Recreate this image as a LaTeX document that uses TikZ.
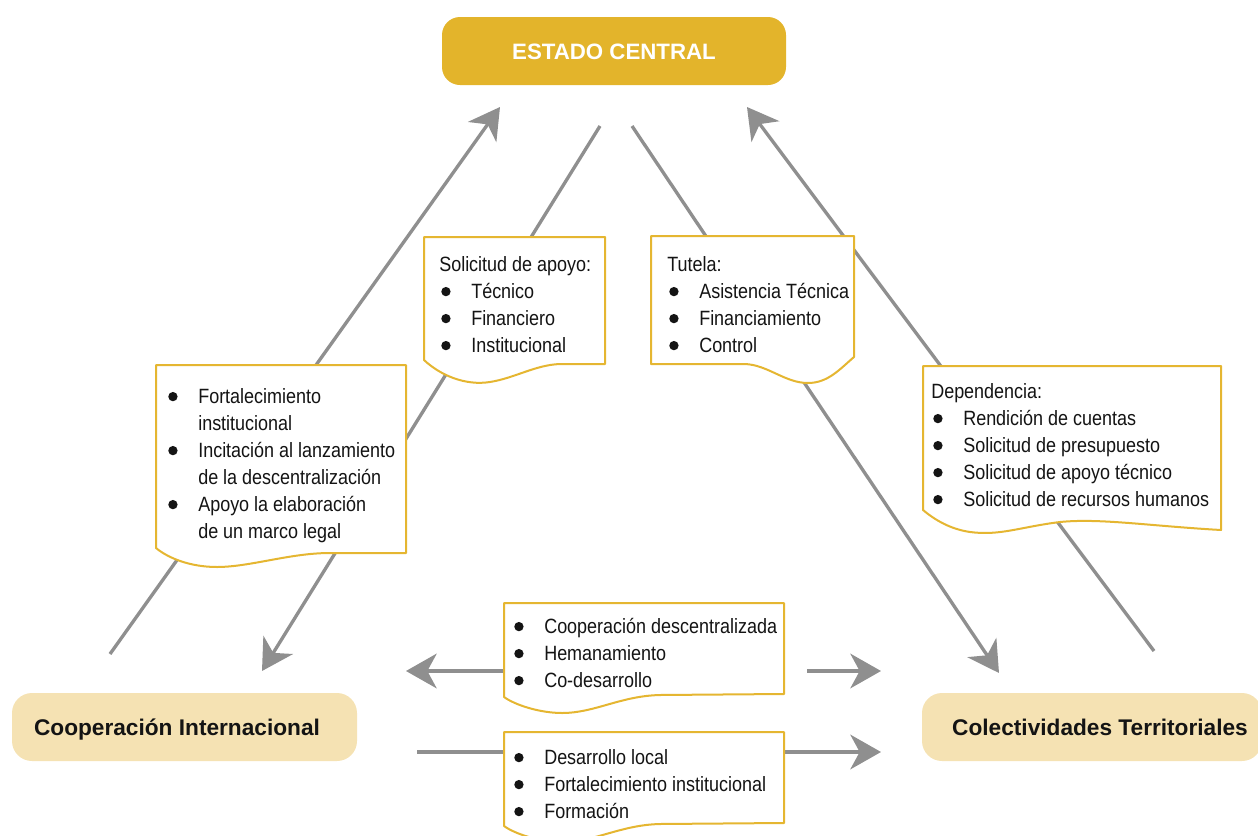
\documentclass[tikz,border=0pt]{standalone}
\usepackage{fontspec}
\setmainfont{Liberation Sans}
\newfontfamily\bodyfont[FakeStretch=0.87]{Liberation Sans}
\usetikzlibrary{arrows.meta}
\definecolor{gold}{HTML}{E3B42B}
\definecolor{sand}{HTML}{F5E2B3}
\definecolor{docline}{HTML}{E5B631}
\definecolor{arrowgray}{HTML}{8F8F8F}
\definecolor{ink}{HTML}{141414}
\newcommand\bul{\makebox[24pt][l]{\hspace{1.5pt}\tikz[baseline=0pt,x=1pt,y=1pt]\fill[ink] (3.5,4.8) circle (3.5);}}
\newcommand\ind{\hspace*{24pt}}
\begin{document}
\begin{tikzpicture}[x=0.75pt,y=-0.75pt,
  flow/.style={draw=arrowgray, line width=2.5pt, -{Stealth[length=23pt,width=26pt,inset=7pt]}},
  doc/.style={draw=docline, line width=1.5pt, fill=white, line join=round},
  doctext/.style={anchor=base west, inner sep=0pt, text=ink, font=\bodyfont\fontsize{15.5pt}{20.25pt}\selectfont},
  bignode/.style={rectangle, rounded corners=15pt, inner sep=0pt, minimum height=51pt, text height=12.2pt, text depth=0pt, font=\bfseries\fontsize{17pt}{20pt}\selectfont, text=ink, fill=sand}
]
\useasboundingbox (0,0) rectangle (1258,836);

% main nodes
\node[rectangle, rounded corners=13.5pt, fill=gold, text=white, inner sep=0pt,
      minimum width=258pt, minimum height=51pt, text height=12pt, text depth=0pt,
      font=\bfseries\fontsize{16.7pt}{20pt}\selectfont] (ec) at (614,51) {ESTADO CENTRAL};
\node[bignode, minimum width=258.75pt] (ci) at (184.5,727) {Cooperación Internacional\kern11.25pt};
\node[bignode, minimum width=255pt] (ct) at (1092,727) {\kern12pt Colectividades Territoriales};

% connector end points
\coordinate (l1s) at (110,654);  \coordinate (l1e) at (500,107);
\coordinate (l2s) at (600,126);  \coordinate (l2e) at (262,671);
\coordinate (l3s) at (632,126);  \coordinate (l3e) at (999,673);
\coordinate (l4s) at (1154,651); \coordinate (l4e) at (747,107);
\coordinate (h1s) at (504,671);  \coordinate (h1e) at (406,671);
\coordinate (h2s) at (807,671);  \coordinate (h2e) at (881,671);
\coordinate (h3s) at (417,752);  \coordinate (h3e) at (881,752);

\draw[flow] (l1s) -- (l1e);
\draw[flow] (l2s) -- (l2e);
\draw[flow] (l3s) -- (l3e);
\draw[flow] (l4s) -- (l4e);
\draw[flow] (h1s) -- (h1e);
\draw[flow] (h2s) -- (h2e);
\draw[flow] (h3s) -- (h3e);

% document shapes
% A: Solicitud de apoyo
\draw[doc] (424,237) -- (605,237) -- (605,364) -- (560,364)
  .. controls (535,365) and (515,378) .. (490,382)
  .. controls (465,386) and (440,375) .. (424,360) -- cycle;
% B: Tutela (mirrored)
\draw[doc] (651,236) -- (854,236) -- (854,357)
  .. controls (840,369) and (828,383) .. (808,383)
  .. controls (785,383) and (768,365) .. (745,364) -- (651,364) -- cycle;
% C: Fortalecimiento
\draw[doc] (156,365) -- (406,365) -- (406,553) -- (330,553)
  .. controls (290,553) and (250,567) .. (217,567)
  .. controls (190,567) and (168,558) .. (156,548) -- cycle;
% D: Dependencia
\draw[doc] (923,366) -- (1221,366) -- (1221,530)
  .. controls (1150,526) and (1100,518) .. (1060,522)
  .. controls (1020,527) and (1000,536) .. (970,532)
  .. controls (950,529) and (935,520) .. (923,510) -- cycle;
% E: Cooperacion descentralizada
\draw[doc] (504,603) -- (784,603) -- (784,694) -- (660,695)
  .. controls (620,696) and (595,713) .. (562,713)
  .. controls (540,713) and (515,705) .. (504,697) -- cycle;
% F: Desarrollo local
\draw[doc] (504,732) -- (784,732) -- (784,823) -- (660,824)
  .. controls (620,825) and (595,842) .. (562,842)
  .. controls (540,842) and (515,834) .. (504,826) -- cycle;

% texts
\node[doctext] (ta) at (439,271) {\begin{tabular}[t]{@{}l@{}}Solicitud de apoyo:\\ \bul Técnico\\ \bul Financiero\\ \bul Institucional\end{tabular}};
\node[doctext] (tb) at (667,271) {\begin{tabular}[t]{@{}l@{}}Tutela:\\ \bul Asistencia Técnica\\ \bul Financiamiento\\ \bul Control\end{tabular}};
\node[doctext] (tc) at (166,403) {\begin{tabular}[t]{@{}l@{}}\bul Fortalecimiento\\ \ind institucional\\ \bul Incitación al lanzamiento\\ \ind de la descentralización\\ \bul Apoyo la elaboración\\ \ind de un marco legal\end{tabular}};
\node[doctext] (td) at (931,398) {\begin{tabular}[t]{@{}l@{}}Dependencia:\\ \bul Rendición de cuentas\\ \bul Solicitud de presupuesto\\ \bul Solicitud de apoyo técnico\\ \bul Solicitud de recursos humanos\end{tabular}};
\node[doctext] (te) at (512,633) {\begin{tabular}[t]{@{}l@{}}\bul Cooperación descentralizada\\ \bul Hemanamiento\\ \bul Co-desarrollo\end{tabular}};
\node[doctext] (tf) at (512,764) {\begin{tabular}[t]{@{}l@{}}\bul Desarrollo local\\ \bul Fortalecimiento institucional\\ \bul Formación\end{tabular}};
\end{tikzpicture}
\end{document}
